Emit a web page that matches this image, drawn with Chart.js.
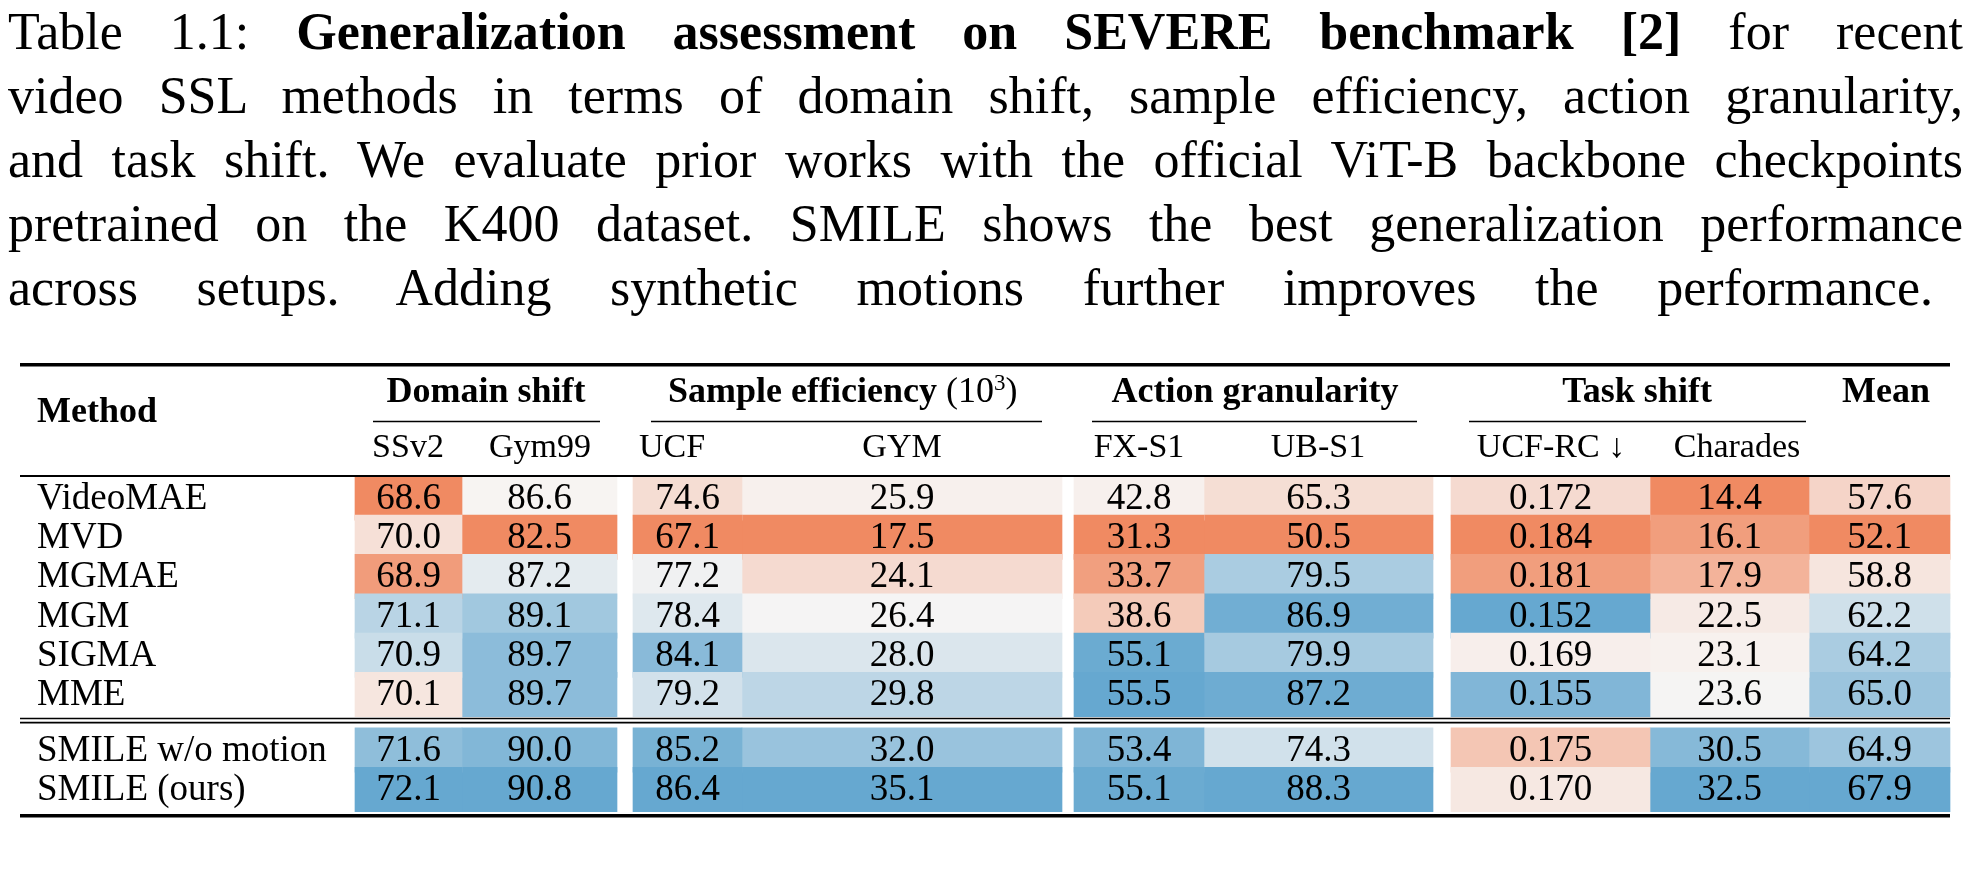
<!DOCTYPE html>
<html><head><meta charset="utf-8">
<script src="https://cdn.jsdelivr.net/npm/chart.js@4.4.1/dist/chart.umd.min.js"></script>
<style>
html,body{margin:0;padding:0;background:#fff;width:1971px;height:871px;overflow:hidden}
#cap{position:absolute;left:8px;top:0px;width:1955px;font-family:"Liberation Serif",serif;font-size:52px;line-height:64px;color:#000}
#cap div{text-align:justify;text-align-last:justify;white-space:nowrap}
#cap div.last{width:1925px}
#wrap{position:absolute;left:0;top:0;width:1971px;height:871px}
</style></head><body>
<div id="wrap"><canvas id="c"></canvas></div>
<div id="cap">
<div>Table 1.1: <b>Generalization assessment on SEVERE benchmark [2]</b> for recent</div>
<div>video SSL methods in terms of domain shift, sample efficiency, action granularity,</div>
<div>and task shift. We evaluate prior works with the official ViT-B backbone checkpoints</div>
<div>pretrained on the K400 dataset. SMILE shows the best generalization performance</div>
<div class="last">across setups. Adding synthetic motions further improves the performance.</div>
</div>
<script>
const methods=["VideoMAE","MVD","MGMAE","MGM","SIGMA","MME","SMILE w/o motion","SMILE (ours)"];
const columns=["SSv2","Gym99","UCF","GYM","FX-S1","UB-S1","UCF-RC ↓","Charades","Mean"];
const groups=["Domain shift","Sample efficiency","Action granularity","Task shift","Mean"];
const SSv2=[68.6,70.0,68.9,71.1,70.9,70.1,71.6,72.1];
const Gym99=[86.6,82.5,87.2,89.1,89.7,89.7,90.0,90.8];
const UCF=[74.6,67.1,77.2,78.4,84.1,79.2,85.2,86.4];
const GYM=[25.9,17.5,24.1,26.4,28.0,29.8,32.0,35.1];
const FXS1=[42.8,31.3,33.7,38.6,55.1,55.5,53.4,55.1];
const UBS1=[65.3,50.5,79.5,86.9,79.9,87.2,74.3,88.3];
const UCFRC=[0.172,0.184,0.181,0.152,0.169,0.155,0.175,0.170];
const Charades=[14.4,16.1,17.9,22.5,23.1,23.6,30.5,32.5];
const Mean=[57.6,52.1,58.8,62.2,64.2,65.0,64.9,67.9];
const series=[SSv2,Gym99,UCF,GYM,FXS1,UBS1,UCFRC,Charades,Mean];
const decimals=[1,1,1,1,1,1,3,1,1];
const lowerBetter=[false,false,false,false,false,false,true,false,false];

// layout (pixels)
const colEdges=[[355,462],[462,617],[633,742],[742,1062],[1074,1204],[1204,1433],[1451,1650],[1650,1809],[1809,1950]];
const rowTop=483,rowH=43.7,sepGap=18;
function rowCenter(i){return rowTop+rowH*i+rowH/2+(i>=6?sepGap:0);}
const O=[240,138,98],W=[247,245,244],B=[102,168,208];
function mix(a,b,t){return a.map((v,k)=>Math.round(v+(b[k]-v)*t));}
function color(vals,v,rev){const mn=Math.min(...vals),mx=Math.max(...vals);let t=(v-mn)/(mx-mn);if(rev)t=1-t;
 const c=t<0.5?mix(O,W,t*2):mix(W,B,(t-0.5)*2);return `rgb(${c[0]},${c[1]},${c[2]})`;}

const datasets=series.map((vals,ci)=>({
 label:columns[ci],
 data:vals.map((v,ri)=>({x:colEdges[ci],y:rowCenter(ri),v:v})),
 backgroundColor:vals.map(v=>color(vals,v,lowerBetter[ci])),
 borderWidth:0,barThickness:rowH+0.6,grouped:false
}));

const F='"Liberation Serif", serif';
const textPlugin={id:'txt',afterDatasetsDraw(ch){
 const c=ch.ctx,x=ch.scales.x,y=ch.scales.y;const X=v=>x.getPixelForValue(v),Y=v=>y.getPixelForValue(v);
 c.save();c.fillStyle='#000';c.textBaseline='middle';
 c.font='37px '+F;c.textAlign='center';
 series.forEach((vals,ci)=>vals.forEach((v,ri)=>{c.fillText(v.toFixed(decimals[ci]),X((colEdges[ci][0]+colEdges[ci][1])/2),Y(rowCenter(ri))+1);}));
 c.textAlign='left';
 methods.forEach((m,ri)=>c.fillText(m,X(37),Y(rowCenter(ri))+1));
 c.font='bold 36px '+F;
 c.fillText('Method',X(37),Y(410));
 c.textAlign='center';
 c.fillText(groups[0],X(486),Y(388));
 c.fillText(groups[2],X(1255),Y(388));
 c.fillText(groups[3],X(1637),Y(388));
 c.fillText(groups[4],X(1886),Y(388));
 const se=groups[1]+' ';const w1=c.measureText(se).width;c.font='36px '+F;const w2=c.measureText('(10  )').width;
 const sx=X(846)-(w1+w2)/2;c.textAlign='left';c.font='bold 36px '+F;c.fillText(se,sx,Y(388));
 c.font='36px '+F;c.fillText('(10',sx+w1,Y(388));const w3=c.measureText('(10').width;
 c.font='23px '+F;c.fillText('3',sx+w1+w3,Y(378));const w4=c.measureText('3').width;
 c.font='36px '+F;c.fillText(')',sx+w1+w3+w4,Y(388));
 c.font='34px '+F;c.textAlign='center';
 const subX=[408,540,672,902,1139,1318,1551,1737];
 subX.forEach((sx2,i)=>c.fillText(columns[i],X(sx2),Y(450)));
 const hl=(x0,x1,yy,w)=>{c.lineWidth=w;c.strokeStyle='#000';c.beginPath();c.moveTo(X(x0),Y(yy));c.lineTo(X(x1),Y(yy));c.stroke();};
 hl(20,1950,357,3.5);hl(20,1950,480.5,2.2);hl(20,1950,750,1.6);hl(20,1950,754.5,1.6);hl(20,1950,858,3.5);
 hl(373,600,420,1.4);hl(651,1042,420,1.4);hl(1092,1417,420,1.4);hl(1469,1806,420,1.4);
 c.restore();}};

new Chart(document.getElementById('c'),{type:'bar',data:{datasets},
 options:{indexAxis:'y',responsive:true,maintainAspectRatio:false,animation:false,
  layout:{padding:0},
  plugins:{legend:{display:false},tooltip:{enabled:false}},
  scales:{x:{type:'linear',min:0,max:1971,display:false},y:{type:'linear',min:0,max:871,reverse:true,display:false}}},
 plugins:[textPlugin]});
</script></body></html>
